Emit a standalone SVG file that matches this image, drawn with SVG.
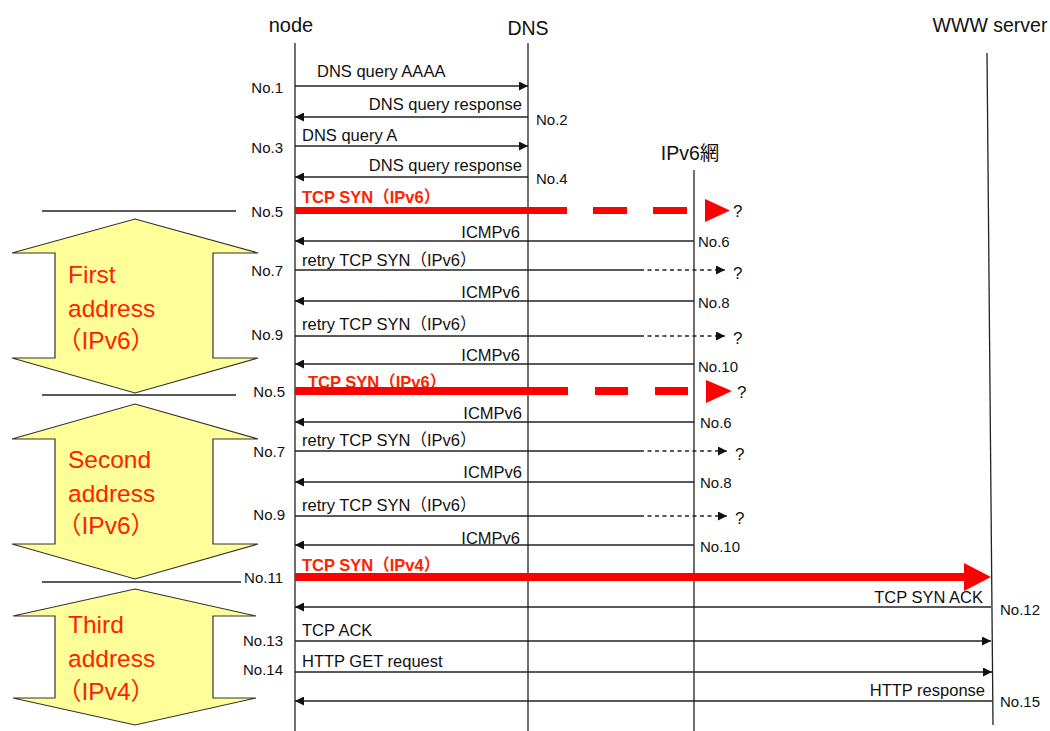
<svg xmlns="http://www.w3.org/2000/svg" width="1050" height="731" viewBox="0 0 1050 731">
<defs>
<marker id="ah" viewBox="0 0 10 10" refX="10" refY="5" markerWidth="9" markerHeight="9" markerUnits="userSpaceOnUse" orient="auto"><path d="M0,0 L10,5 L0,10 z" fill="#111"/></marker>
<style>
text{font-family:"Liberation Sans","Noto Sans CJK JP",sans-serif;fill:#111}
.hd{font-size:19.5px}
.no{font-size:15px}
.lb{font-size:16.5px}
.rd{font-size:16.5px;font-weight:bold;fill:#ff2200}
.big{font-size:24.5px;fill:#ff2200}
.ll{stroke:#222;stroke-width:1.3;fill:none}
.m{stroke:#222;stroke-width:1.3;fill:none;marker-end:url(#ah)}
.d{stroke:#222;stroke-width:1.3;fill:none;stroke-dasharray:4 3.5}
.sep{stroke:#222;stroke-width:1.3}
.arr{fill:#ffff99;stroke:#333;stroke-width:1.2}
.red{fill:#ff0000}
</style>
</defs>
<rect width="1050" height="731" fill="#fff"/>

<g id="node"><text class="hd" x="291" y="32" text-anchor="middle" style="font-size:20px">node</text><line class="ll" x1="295" y1="43" x2="295" y2="731"/></g>
<g id="dns"><text class="hd" x="528" y="35" text-anchor="middle">DNS</text><line class="ll" x1="528" y1="43" x2="528" y2="731"/></g>
<g id="ipv6net"><text class="hd" x="690" y="160" text-anchor="middle">IPv6網</text><line class="ll" x1="694" y1="170" x2="694" y2="731"/></g>
<g id="www"><text class="hd" x="990" y="32" text-anchor="middle">WWW server</text><line class="ll" x1="987" y1="53" x2="993" y2="725"/></g>

<g id="phase1"><polygon class="arr" points="135,219 258,253 213,253 213,358 258,358 135,393 12,358 55,358 55,253 12,253"/>
<text class="big" x="68" y="283">First</text><text class="big" x="68" y="317">address</text><text class="big" x="57" y="349">（IPv6）</text></g>
<g id="phase2"><polygon class="arr" points="135,404 258,439 213,439 213,544 258,544 135,579 12,544 55,544 55,439 12,439"/>
<text class="big" x="68" y="468">Second</text><text class="big" x="68" y="502">address</text><text class="big" x="57" y="534">（IPv6）</text></g>
<g id="phase3"><polygon class="arr" points="135,589 256,616 213,616 213,698 256,698 135,725 13,698 55,698 55,616 13,616"/>
<text class="big" x="68" y="633">Third</text><text class="big" x="68" y="667">address</text><text class="big" x="57" y="700">（IPv4）</text></g>

<g id="connectors">
<line class="sep" x1="42" y1="211" x2="236" y2="211"/>
<line class="sep" x1="42" y1="395" x2="236" y2="395"/>
<line class="sep" x1="42" y1="582" x2="241" y2="582"/>

<line class="m" x1="295" y1="86" x2="528" y2="86"/>
<line class="m" x1="528" y1="117" x2="295" y2="117"/>
<line class="m" x1="295" y1="146" x2="528" y2="146"/>
<line class="m" x1="528" y1="177" x2="295" y2="177"/>

<text class="rd" x="302" y="203">TCP SYN（IPv6）</text>
<rect class="red" x="295" y="207" width="272" height="7"/>
<rect class="red" x="593" y="207" width="34" height="7"/>
<rect class="red" x="653" y="207" width="34" height="7"/>
<polygon class="red" points="705,199 730,210.5 705,222"/>

<line class="m" x1="694" y1="241" x2="295" y2="241"/>
<line class="ll" x1="295" y1="270" x2="640" y2="270"/><line class="d" x1="640" y1="270" x2="718" y2="270"/><line class="m" x1="716" y1="270" x2="725" y2="270"/>
<line class="m" x1="694" y1="301" x2="295" y2="301"/>
<line class="ll" x1="295" y1="336" x2="640" y2="336"/><line class="d" x1="640" y1="336" x2="718" y2="336"/><line class="m" x1="716" y1="336" x2="725" y2="336"/>
<line class="m" x1="694" y1="364" x2="295" y2="364"/>

<text class="rd" x="308" y="388">TCP SYN（IPv6）</text>
<rect class="red" x="295" y="387" width="273" height="8"/>
<rect class="red" x="595" y="387" width="33" height="8"/>
<rect class="red" x="655" y="387" width="33" height="8"/>
<polygon class="red" points="706,380 732,391 706,403"/>

<line class="m" x1="694" y1="422" x2="295" y2="422"/>
<line class="ll" x1="295" y1="451" x2="640" y2="451"/><line class="d" x1="640" y1="451" x2="720" y2="451"/><line class="m" x1="718" y1="451" x2="727" y2="451"/>
<line class="m" x1="694" y1="482" x2="295" y2="482"/>
<line class="ll" x1="295" y1="516" x2="640" y2="516"/><line class="d" x1="640" y1="516" x2="720" y2="516"/><line class="m" x1="718" y1="516" x2="727" y2="516"/>
<line class="m" x1="694" y1="545" x2="295" y2="545"/>

<text class="rd" x="302" y="571">TCP SYN（IPv4）</text>
<rect class="red" x="295" y="573" width="670" height="8"/>
<polygon class="red" points="964,563 991,577 964,591"/>

<line class="m" x1="991" y1="607" x2="295" y2="607"/>
<line class="m" x1="295" y1="641" x2="991" y2="641"/>
<line class="m" x1="295" y1="672" x2="992" y2="672"/>
<line class="m" x1="992" y1="701" x2="295" y2="701"/>
</g>

<g id="labels">
<text class="lb" x="317" y="77">DNS query AAAA</text>
<text class="lb" x="522" y="110" text-anchor="end">DNS query response</text>
<text class="lb" x="302" y="141">DNS query A</text>
<text class="lb" x="522" y="171" text-anchor="end">DNS query response</text>
<text class="lb" x="520" y="238" text-anchor="end">ICMPv6</text>
<text class="lb" x="302" y="266">retry TCP SYN（IPv6）</text>
<text class="lb" x="520" y="298" text-anchor="end">ICMPv6</text>
<text class="lb" x="302" y="330">retry TCP SYN（IPv6）</text>
<text class="lb" x="520" y="361" text-anchor="end">ICMPv6</text>
<text class="lb" x="522" y="419" text-anchor="end">ICMPv6</text>
<text class="lb" x="302" y="446">retry TCP SYN（IPv6）</text>
<text class="lb" x="522" y="478" text-anchor="end">ICMPv6</text>
<text class="lb" x="302" y="511">retry TCP SYN（IPv6）</text>
<text class="lb" x="520" y="544" text-anchor="end">ICMPv6</text>
<text class="lb" x="983" y="603" text-anchor="end">TCP SYN ACK</text>
<text class="lb" x="302" y="636">TCP ACK</text>
<text class="lb" x="302" y="667">HTTP GET request</text>
<text class="lb" x="985" y="696" text-anchor="end">HTTP response</text>

<text class="lb" x="733" y="217" style="font-size:17px">?</text>
<text class="lb" x="733" y="279" style="font-size:17px">?</text>
<text class="lb" x="733" y="344" style="font-size:17px">?</text>
<text class="lb" x="737" y="398" style="font-size:17px">?</text>
<text class="lb" x="735" y="460" style="font-size:17px">?</text>
<text class="lb" x="735" y="524" style="font-size:17px">?</text>

<text class="no" x="283" y="93" text-anchor="end">No.1</text>
<text class="no" x="536" y="125">No.2</text>
<text class="no" x="283" y="153" text-anchor="end">No.3</text>
<text class="no" x="536" y="184">No.4</text>
<text class="no" x="283" y="217" text-anchor="end">No.5</text>
<text class="no" x="698" y="247">No.6</text>
<text class="no" x="283" y="276" text-anchor="end">No.7</text>
<text class="no" x="698" y="308">No.8</text>
<text class="no" x="283" y="340" text-anchor="end">No.9</text>
<text class="no" x="698" y="372">No.10</text>
<text class="no" x="285" y="397" text-anchor="end">No.5</text>
<text class="no" x="700" y="428">No.6</text>
<text class="no" x="285" y="457" text-anchor="end">No.7</text>
<text class="no" x="700" y="488">No.8</text>
<text class="no" x="285" y="520" text-anchor="end">No.9</text>
<text class="no" x="700" y="552">No.10</text>
<text class="no" x="283" y="583" text-anchor="end">No.11</text>
<text class="no" x="1000" y="615">No.12</text>
<text class="no" x="283" y="646" text-anchor="end">No.13</text>
<text class="no" x="283" y="675" text-anchor="end">No.14</text>
<text class="no" x="1000" y="707">No.15</text>
</g>
</svg>
